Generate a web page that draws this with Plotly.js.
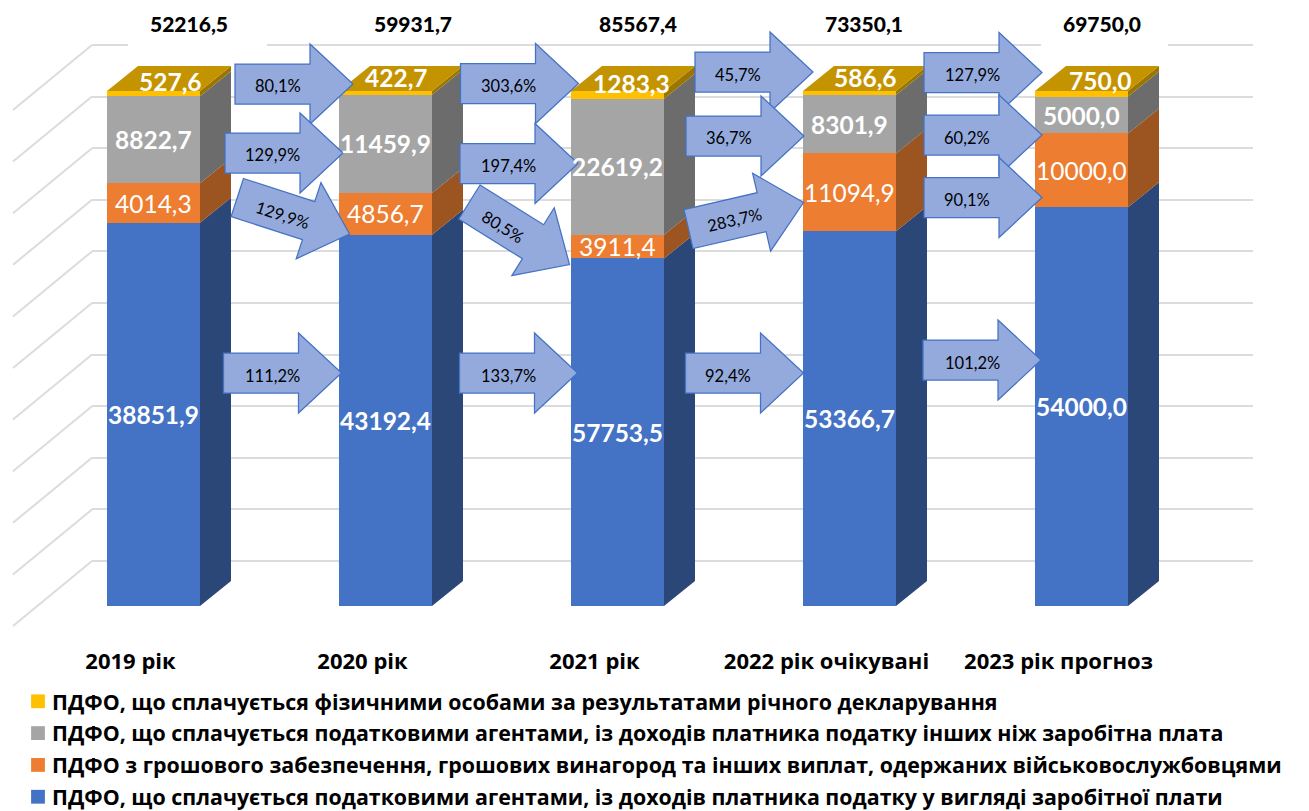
<!DOCTYPE html>
<html><head><meta charset="utf-8">
<script src="https://cdn.plot.ly/plotly-3.0.1.min.js"></script>
<style>html,body{margin:0;padding:0;background:#fff}</style></head>
<body><div id="chart" style="width:1309px;height:811px"></div>
<script>
const categories = ['2019 рік','2020 рік','2021 рік','2022 рік очікувані','2023 рік прогноз'];
const totals = [52216.5,59931.7,85567.4,73350.1,69750.0];
const salary = [38851.9,43192.4,57753.5,53366.7,54000.0];
const military = [4014.3,4856.7,3911.4,11094.9,10000.0];
const otherIncome = [8822.7,11459.9,22619.2,8301.9,5000.0];
const declared = [527.6,422.7,1283.3,586.6,750.0];
const seriesNames = [
 'ПДФО, що сплачується податковими агентами, із доходів платника податку у вигляді заробітної плати',
 'ПДФО з грошового забезпечення, грошових винагород та інших виплат, одержаних військовослужбовцями',
 'ПДФО, що сплачується податковими агентами, із доходів платника податку інших ніж заробітна плата',
 'ПДФО, що сплачується фізичними особами за результатами річного декларування'];
const growthLabels = ['80,1%','129,9%','129,9%','111,2%','303,6%','197,4%','80,5%','133,7%','45,7%','36,7%','283,7%','92,4%','127,9%','60,2%','90,1%','101,2%'];
// arrow placement on the canvas: tip x, tip y, angle, label x, label y
const arrowTipX = [353,343,349.5,341.5,578.5,578,569.5,577.5,813,804,803.5,803.5,1042,1042,1042,1041];
const arrowTipY = [84,153,234,373,83.5,163.5,264.5,373,72,136,202.5,373,72.5,135,197.5,360];
const arrowAngle = [0,0,18,0,0,0,32,0,0,0,-13,0,0,0,0,0];
const arrowLabelX = [277.5,272.5,282,272,508,508,503,508,738,729,734,728,972,967,967,972];
const arrowLabelY = [85.5,155,215,376,86,166,227,376,75,138,220,376,75,138,200,363];
const topLabelShift = [17,11,13.5,16,18.5];
const topLabelY = [81,77.5,83,77.5,80];
const totalShift = [35.5,27,20.5,14.5,20];

const colors = ['#4472C4','#ED7D31','#A5A5A5','#FFC000'];
const sideColors = ['#2B4778','#9C5520','#6C6C6C','#9A7600'];
const topColor = '#C49300';
const W=1309,H=811, X0=153.5, STEP=232, BARW=93, Y0=606, PXU=5.15, DX=31, DY=25;
const xd = p => (p-X0)/STEP;
const yd = p => (Y0-p)/PXU;
const series=[salary,military,otherIncome,declared];
const fmt = v => v.toFixed(1).replace('.',',');
const P = (p,v) => xd(p)+','+yd(v);

const traces=[];
traces.push({type:'scatter',x:[0],y:[0],xaxis:'x',yaxis:'y',mode:'markers',marker:{opacity:0},showlegend:false,hoverinfo:'skip'});
const gridVals=[0,10,20,30,40,50,60,70,80,90,100];
const diagX=[],diagY=[];
gridVals.forEach(v=>{const py=561-v*5.16;diagX.push(xd(92),xd(13),null);diagY.push(yd(py),yd(py+65),null);});
// the top grid line has white gaps behind two of the total labels
[[92,128],[267,1041],[1168,1253]].forEach(([a,b])=>{diagX.push(xd(a),xd(b),null);diagY.push(yd(45),yd(45),null);});
traces.push({type:'scatter',x:diagX,y:diagY,xaxis:'x2',yaxis:'y2',mode:'lines',line:{color:'#dcdcdc',width:2},showlegend:false,hoverinfo:'skip'});
series.forEach((s,k)=>traces.push({type:'bar',name:seriesNames[k],x:categories.map((c,i)=>i),y:s,width:BARW/STEP,
  marker:{color:colors[k],line:{width:0}},xaxis:'x2',yaxis:'y2',legendgroup:'g'+k,legendrank:4-k,hoverinfo:'y+name'}));
const annotations=[];
const base=categories.map(()=>0);
const lab=(x,y,text,size,color,extra)=>Object.assign({xref:'x2',yref:'y2',x,y,text,showarrow:false,xanchor:'center',yanchor:'middle',
  font:{family:'Lato, "Open Sans", sans-serif',size,color},borderpad:0},extra||{});
series.forEach((s,k)=>{
  const sx=[],sy=[];
  s.forEach((v,i)=>{
    const sum=series.reduce((a,q)=>a+q[i],0), a=base[i], b=a+v/sum*100;
    const xr=i+BARW/STEP/2, dx=DX/STEP, dy=DY/PXU;
    sx.push(xr,xr+dx,xr+dx,xr,xr,null); sy.push(a,a+dy,b+dy,b,a,null);
    base[i]=b;
    if(k<3){
      annotations.push(lab(i,(a+b)/2,k===1?fmt(v):'<b>'+fmt(v)+'</b>',24.5,'#ffffff'));
    }
  });
  traces.push({type:'scatter',x:sx,y:sy,xaxis:'x2',yaxis:'y2',mode:'lines',fill:'toself',fillcolor:sideColors[k],line:{width:0},showlegend:false,hoverinfo:'skip'});
});
const topX=[],topY=[];
categories.forEach((c,i)=>{const xl=i-BARW/STEP/2,xr=i+BARW/STEP/2,dx=DX/STEP,dy=DY/PXU;
  topX.push(xl,xr,xr+dx,xl+dx,xl,null);topY.push(100,100,100+dy,100+dy,100,null);});
traces.push({type:'scatter',x:topX,y:topY,xaxis:'x2',yaxis:'y2',mode:'lines',fill:'toself',fillcolor:topColor,line:{width:0},showlegend:false,hoverinfo:'skip'});

declared.forEach((v,i)=>annotations.push(lab(i+topLabelShift[i]/STEP,yd(topLabelY[i]),'<b>'+fmt(v)+'</b>',24.5,'#ffffff')));
totals.forEach((v,i)=>annotations.push(lab(i+totalShift[i]/STEP,yd(23.5),fmt(v),21,'#000000',{font:{family:'Lato, "Open Sans", sans-serif',size:21,color:'#000000',weight:900}})));

const shapes=[];
const outline=[[-118,-20],[-43,-20],[-43,-40],[0,0],[-43,40],[-43,20],[-118,20]];
growthLabels.forEach((t,i)=>{
  const a=arrowAngle[i]*Math.PI/180,c=Math.cos(a),s=Math.sin(a);
  const pts=outline.map(([u,v])=>P(arrowTipX[i]+u*c-v*s, arrowTipY[i]+u*s+v*c).replace(',',' '));
  shapes.push({type:'path',xref:'x2',yref:'y2',path:'M'+pts.join(' L')+' Z',fillcolor:'#94AADD',line:{color:'#4472C4',width:1.25},layer:'above'});
  annotations.push(lab(xd(arrowLabelX[i]),yd(arrowLabelY[i]),t,16.5,'#000000',{textangle:arrowAngle[i]}));
});

const layout={
 width:W,height:H,margin:{l:0,r:0,t:0,b:0,pad:0},paper_bgcolor:'#fff',plot_bgcolor:'rgba(0,0,0,0)',barmode:'stack',barnorm:'percent',
 font:{family:'"Open Sans", sans-serif',color:'#000'},
 hovermode:false,
 xaxis:{domain:[92/W,1253/W],range:[0,1],visible:false,fixedrange:true,anchor:'y'},
 yaxis:{domain:[1-(561+10.32)/H,1-(45-10.32)/H],range:[-2,102],tickvals:gridVals.slice(0,-1),showticklabels:false,ticks:'',showgrid:true,gridcolor:'#dcdcdc',gridwidth:2,zeroline:false,showline:false,anchor:'x',fixedrange:true},
 xaxis2:{domain:[0,1],range:[xd(0),xd(W)],anchor:'y2',tickmode:'array',tickvals:categories.map((c,i)=>i),ticktext:categories,
   ticks:'',showgrid:false,zeroline:false,showline:false,ticklabelshift:-23,ticklabelstandoff:16,tickangle:0,
   tickfont:{family:'"Open Sans", sans-serif',size:22,color:'#000',weight:700},fixedrange:true},
 yaxis2:{domain:[1-630/H,1],range:[yd(630),yd(0)],anchor:'x2',visible:false,showgrid:false,zeroline:false,fixedrange:true},
 legend:{x:12/W,y:0.002,xanchor:'left',yanchor:'bottom',orientation:'v',traceorder:'grouped',tracegroupgap:1,bgcolor:'rgba(0,0,0,0)',
   font:{family:'"Open Sans", sans-serif',size:21.4,color:'#000',weight:700}},
 showlegend:true,shapes,annotations
};
Plotly.newPlot('chart',traces,layout,{displayModeBar:false,staticPlot:true}).then(()=>{
  document.querySelectorAll('.legendsymbols').forEach(n=>n.setAttribute('transform','translate(3,0) scale(1.15)'));
  const lg=document.querySelector('.infolayer .legend');
  const m=/translate\(\s*([-\d.]+)[ ,]+([-\d.]+)/.exec(lg.getAttribute('transform'));
  if(m) lg.setAttribute('transform','translate('+m[1]+','+(parseFloat(m[2])+8.5)+')');
});
</script></body></html>
